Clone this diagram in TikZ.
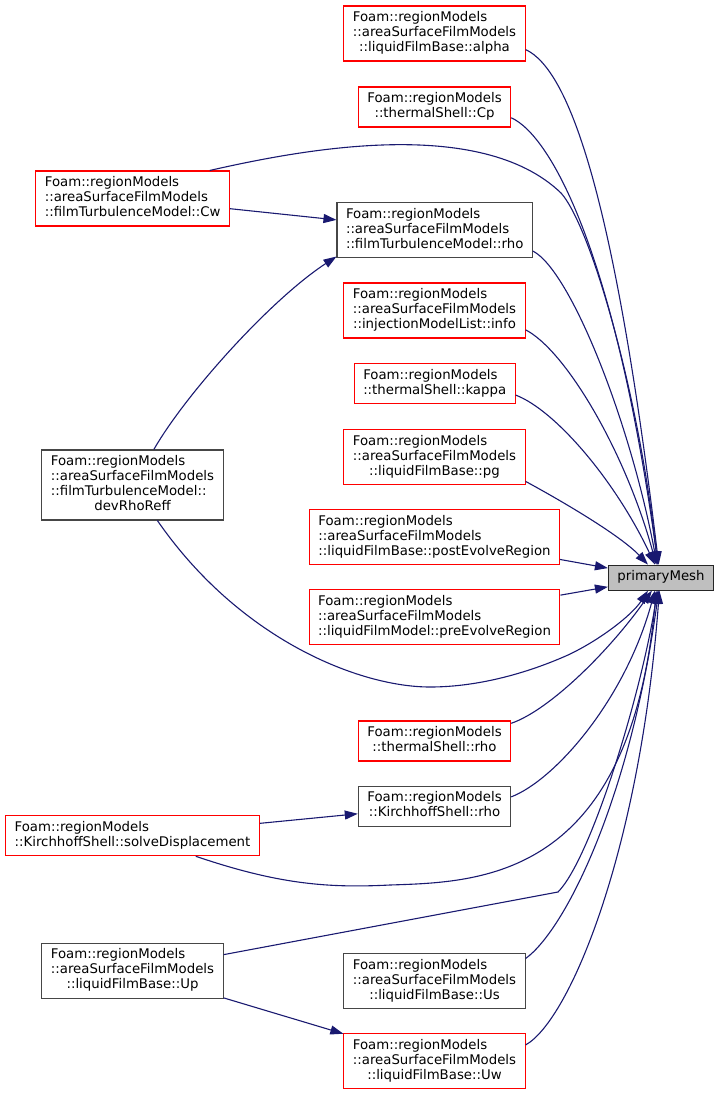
\documentclass[tikz,border=0pt]{standalone}
\usepackage{fontspec}
\setmainfont{DejaVu Sans}
\usepackage{tikz}
\usetikzlibrary{arrows.meta}
\usepackage{xcolor}

\definecolor{edgeblue}{RGB}{25,25,112}
\definecolor{truncred}{RGB}{255,0,0}
\definecolor{docgrey}{RGB}{70,70,70}
\definecolor{rootgrey}{RGB}{191,191,191}

\newcommand{\fnlines}[2]{\begin{tabular}{@{}l@{}}#1\\\multicolumn{1}{@{}c@{}}{#2}\end{tabular}}

\tikzset{
  fn/.style={draw, line width=1.1pt, fill=white, inner xsep=9pt, inner ysep=5pt,
    font=\fontsize{13.3}{15}\selectfont},
  fnred/.style={fn, draw=truncred},
  fnblack/.style={fn, draw=docgrey},
  fnroot/.style={fn, draw=black!85, fill=rootgrey},
}

\begin{document}
\begin{tikzpicture}[x=1pt,y=-1pt]

\useasboundingbox (0,0) rectangle (720,1095);

\node[fnred] (alpha) at (434.5,33.5) {\fnlines{Foam::regionModels\\::areaSurfaceFilmModels}{::liquidFilmBase::alpha}};
\node[fnred] (cp) at (434.5,107) {\fnlines{Foam::regionModels}{::thermalShell::Cp}};
\node[fnred] (cw) at (132.7,198.5) {\fnlines{Foam::regionModels\\::areaSurfaceFilmModels}{::filmTurbulenceModel::Cw}};
\node[fnblack] (ftrho) at (434.7,230.2) {\fnlines{Foam::regionModels\\::areaSurfaceFilmModels}{::filmTurbulenceModel::rho}};
\node[fnred] (info) at (434.5,310.5) {\fnlines{Foam::regionModels\\::areaSurfaceFilmModels}{::injectionModelList::info}};
\node[fnred] (kappa) at (434.7,383.7) {\fnlines{Foam::regionModels}{::thermalShell::kappa}};
\node[fnred] (pg) at (434.5,457) {\fnlines{Foam::regionModels\\::areaSurfaceFilmModels}{::liquidFilmBase::pg}};
\node[fnred] (post) at (434.5,537) {\fnlines{Foam::regionModels\\::areaSurfaceFilmModels}{::liquidFilmBase::postEvolveRegion}};
\node[fnroot] (pm) at (661,577.6) {\strut primaryMesh};
\node[fnred] (pre) at (434.5,617) {\fnlines{Foam::regionModels\\::areaSurfaceFilmModels}{::liquidFilmModel::preEvolveRegion}};
\node[fnblack] (devrho) at (132.5,485) {\fnlines{Foam::regionModels\\::areaSurfaceFilmModels\\::filmTurbulenceModel::}{devRhoReff}};
\node[fnred] (tsrho) at (434.5,741) {\fnlines{Foam::regionModels}{::thermalShell::rho}};
\node[fnblack] (ksrho) at (434.5,806.3) {\fnlines{Foam::regionModels}{::KirchhoffShell::rho}};
\node[fnred] (solve) at (132.5,835.7) {\fnlines{Foam::regionModels}{::KirchhoffShell::solveDisplacement}};
\node[fnblack] (up) at (132.5,970.7) {\fnlines{Foam::regionModels\\::areaSurfaceFilmModels}{::liquidFilmBase::Up}};
\node[fnblack] (us) at (434.5,981.2) {\fnlines{Foam::regionModels\\::areaSurfaceFilmModels}{::liquidFilmBase::Us}};
\node[fnred] (uw) at (434.5,1061) {\fnlines{Foam::regionModels\\::areaSurfaceFilmModels}{::liquidFilmBase::Uw}};

\begin{scope}[edgeblue, line width=1.1pt, -{Triangle[length=13pt,width=9pt]}]
    % callers above primaryMesh
    \draw (alpha.-10) .. controls (570,70) and (615,200) .. (pm.100);
    \draw (cp.-8) .. controls (550,135) and (615,250) .. (pm.103);
    \draw (cw.20) .. controls (300,150) and (480,115) .. (561,193) .. controls (592,228) and (640,400) .. (pm.105);
    \draw (cw) -- (ftrho);
    \draw (devrho.59) .. controls (185,395) and (270,300) .. (ftrho.195);
    \draw (ftrho.-12) .. controls (570,270) and (630,420) .. (pm.107);
    \draw (info.-12) .. controls (565,350) and (625,450) .. (pm.110);
    \draw (kappa.-8) .. controls (555,410) and (615,480) .. (pm.115);
    \draw (pg.-15) .. controls (560,500) and (620,535) .. (pm.135);
    \draw (post) -- (pm);
    \draw (pre) -- (pm);
    % callers below primaryMesh
    \draw (devrho.-55) .. controls (240,640) and (360,687) .. (430,687) .. controls (480,687) and (530,672) .. (568,655) .. controls (600,640) and (632,615) .. (pm.-135);
    \draw (tsrho.13) .. controls (550,710) and (610,650) .. (pm.-125);
    \draw (ksrho.7) .. controls (555,780) and (625,700) .. (pm.-115);
    \draw (solve) -- (ksrho);
    \draw (solve.-18) .. controls (280,885) and (330,888) .. (390,885) .. controls (480,882) and (630,880) .. (pm.-110);
    \draw (up.10) -- (558,892) .. controls (590,860) and (640,700) .. (pm.-105);
    \draw (us.14) .. controls (565,930) and (630,800) .. (pm.-100);
    \draw (up) -- (uw);
    \draw (uw.10) .. controls (570,1020) and (640,850) .. (pm.-97);
\end{scope}

\end{tikzpicture}
\end{document}
